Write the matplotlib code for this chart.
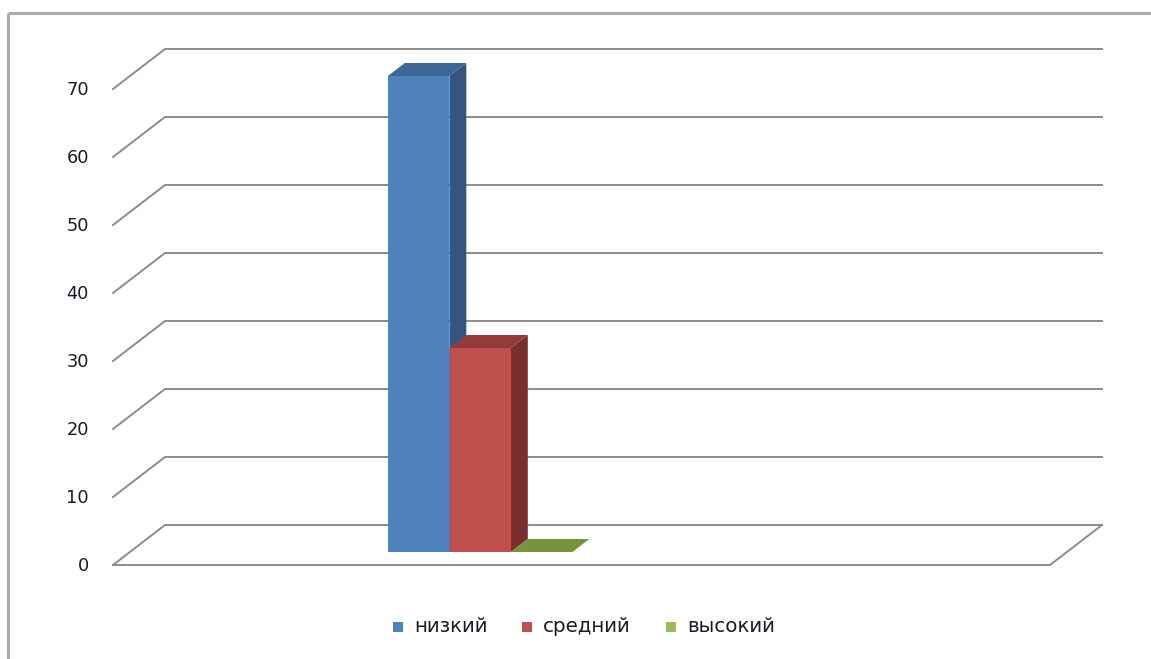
import matplotlib
matplotlib.use("Agg")
import matplotlib.pyplot as plt
from matplotlib.patches import Polygon, Rectangle

# ---- data ----
series = ["низкий", "средний", "высокий"]
values = [70, 30, 0]
yticks = [0, 10, 20, 30, 40, 50, 60, 70]

front_colors = ["#4F81BD", "#C0504D", "#9BBB59"]
side_colors = ["#35557F", "#77302E", "#71893F"]
top_colors = ["#3C6696", "#923B38", "#77933C"]

# ---- layout (pixels) ----
W, H = 1151, 659
X0, X1 = 113, 1050          # front floor edge
Y0 = 565                    # front y of value 0
PX_PER_UNIT = 6.8
DEPTH_DX, DEPTH_DY = 52, -40
BAR_W = 61.5
BAR_X0 = 371                # left edge of first bar at depth 0
BAR_D0, BAR_D1 = 0.325, 0.65


def proj(x, v, d):
    return (x + DEPTH_DX * d, Y0 - v * PX_PER_UNIT + DEPTH_DY * d)


fig = plt.figure(figsize=(W / 100, H / 100), dpi=100)
ax = fig.add_axes([0, 0, 1, 1])
ax.set_xlim(0, W)
ax.set_ylim(H, 0)
ax.axis("off")

grid_c = "#8C8C8C"
lw = 1.4

# outer frame (top & left)
ax.plot([8, W], [13, 13], color="#ABABAB", lw=2.2, solid_capstyle="butt")
ax.plot([8, 8], [13, H], color="#ABABAB", lw=2.2, solid_capstyle="butt")

# gridlines: back wall + left wall diagonals
for t in yticks:
    a = proj(X0, t, 0)
    b = proj(X0, t, 1)
    c = proj(X1, t, 1)
    ax.plot([a[0], b[0], c[0]], [a[1], b[1], c[1]], color=grid_c, lw=lw, zorder=1)
    ax.text(89, a[1] + 1, str(t), ha="right", va="center", fontsize=12.8,
            color="#1A1A2A", family="DejaVu Sans", fontweight="medium")

# floor front edge and right edge
f0 = proj(X0, 0, 0)
f1 = proj(X1, 0, 0)
f2 = proj(X1, 0, 1)
ax.plot([f0[0], f1[0], f2[0]], [f0[1], f1[1], f2[1]], color=grid_c, lw=lw, zorder=1)

# bars
for i, v in enumerate(values):
    xl = BAR_X0 + i * BAR_W
    xr = xl + BAR_W
    front = [proj(xl, 0, BAR_D0), proj(xr, 0, BAR_D0), proj(xr, v, BAR_D0), proj(xl, v, BAR_D0)]
    side = [proj(xr, 0, BAR_D0), proj(xr, 0, BAR_D1), proj(xr, v, BAR_D1), proj(xr, v, BAR_D0)]
    top = [proj(xl, v, BAR_D0), proj(xr, v, BAR_D0), proj(xr, v, BAR_D1), proj(xl, v, BAR_D1)]
    z = 3 + i
    if v > 0:
        ax.add_patch(Polygon(side, closed=True, facecolor=side_colors[i], edgecolor="none", zorder=z))
        ax.add_patch(Polygon(front, closed=True, facecolor=front_colors[i], edgecolor="none", zorder=z))
    ax.add_patch(Polygon(top, closed=True, facecolor=top_colors[i], edgecolor="none", zorder=z))

# legend
leg_y = 627
leg_x = [393, 522, 666]
for i, name in enumerate(series):
    ax.add_patch(Rectangle((leg_x[i], leg_y - 5), 10, 10, facecolor=front_colors[i],
                           edgecolor="none", zorder=5))
    ax.text(leg_x[i] + 21, leg_y, name, ha="left", va="center", fontsize=14.3,
            color="#1A1A2A", family="DejaVu Sans")

fig.savefig("out.png", dpi=100)
